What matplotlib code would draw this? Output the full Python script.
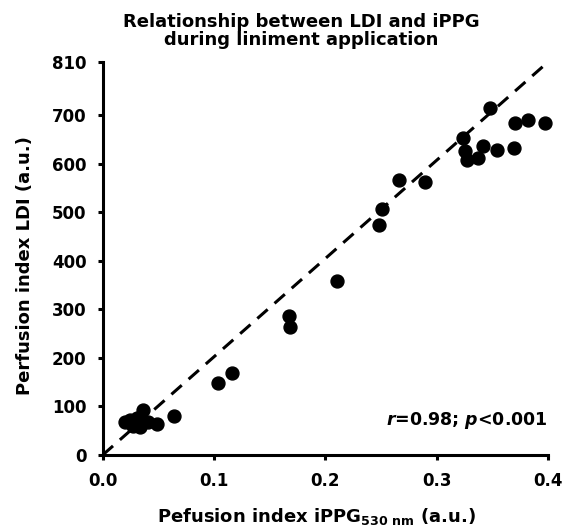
import matplotlib
matplotlib.use("Agg")
import matplotlib.pyplot as plt

# Data
ippg = [0.020, 0.0245, 0.0275, 0.0305, 0.0335, 0.0365, 0.041, 0.0485, 0.0643,
        0.1033, 0.1165, 0.1674, 0.168, 0.2108, 0.248, 0.2507, 0.266, 0.2896,
        0.324, 0.3255, 0.327, 0.3375, 0.342, 0.348, 0.354, 0.3695, 0.370,
        0.382, 0.397]
ldi = [69, 72, 60, 76, 58, 93, 67, 64, 80,
       149, 168, 287, 263, 359, 474, 507, 567, 563,
       653, 627, 607, 612, 637, 715, 629, 632, 684,
       691, 684]
line_x = [0.0, 0.4]
line_y = [0, 810]
xticks = [0.0, 0.1, 0.2, 0.3, 0.4]
xtick_labels = ["0.0", "0.1", "0.2", "0.3", "0.4"]
yticks = [0, 100, 200, 300, 400, 500, 600, 700, 810]

plt.rcParams['font.family'] = ['DejaVu Sans']
plt.rcParams['font.weight'] = 'bold'
plt.rcParams['mathtext.fontset'] = 'custom'
plt.rcParams['mathtext.rm'] = 'DejaVu Sans:bold'
plt.rcParams['mathtext.it'] = 'DejaVu Sans:italic:bold'
plt.rcParams['mathtext.bf'] = 'DejaVu Sans:bold'

fig = plt.figure(figsize=(5.68, 5.26), dpi=100)
ax = fig.add_axes([102.7/568, 71/526, (548-102.7)/568, (455-62)/526])

ax.plot(line_x, line_y, color='black', lw=2.2, dashes=(4.5, 3), zorder=1)
ax.plot(ippg, ldi, 'o', color='black', ms=9.3, zorder=2, clip_on=False)

ax.set_xlim(0, 0.4)
ax.set_ylim(0, 810)
ax.set_xticks(xticks)
ax.set_xticklabels(xtick_labels)
ax.set_yticks(yticks)
for s in ['top', 'right']:
    ax.spines[s].set_visible(False)
for s in ['left', 'bottom']:
    ax.spines[s].set_linewidth(2.2)
ax.tick_params(axis='both', direction='out', length=3.5, width=2.2, labelsize=12)
ax.tick_params(axis='x', pad=9)
ax.tick_params(axis='y', pad=8)
for lab in ax.get_xticklabels() + ax.get_yticklabels():
    lab.set_fontweight('bold')

ax.set_ylabel('Perfusion index LDI (a.u.)', fontsize=13, fontweight='bold')
ax.yaxis.set_label_coords(-0.155, 0.483)
ax.set_xlabel(r'Pefusion index iPPG$_{\mathregular{530\ nm}}$ (a.u.)',
              fontsize=13, fontweight='bold')
ax.xaxis.set_label_coords(0.481, -0.13)

fig.text(0.53, 0.975, 'Relationship between LDI and iPPG\nduring liniment application',
         ha='center', va='top', fontsize=13, fontweight='bold', linespacing=1.0)

ax.text(1.0, 0.089, r'$r$=0.98; $p$<0.001', transform=ax.transAxes,
        ha='right', va='center', fontsize=12.5, fontweight='bold')

fig.savefig('out.png', dpi=100)
